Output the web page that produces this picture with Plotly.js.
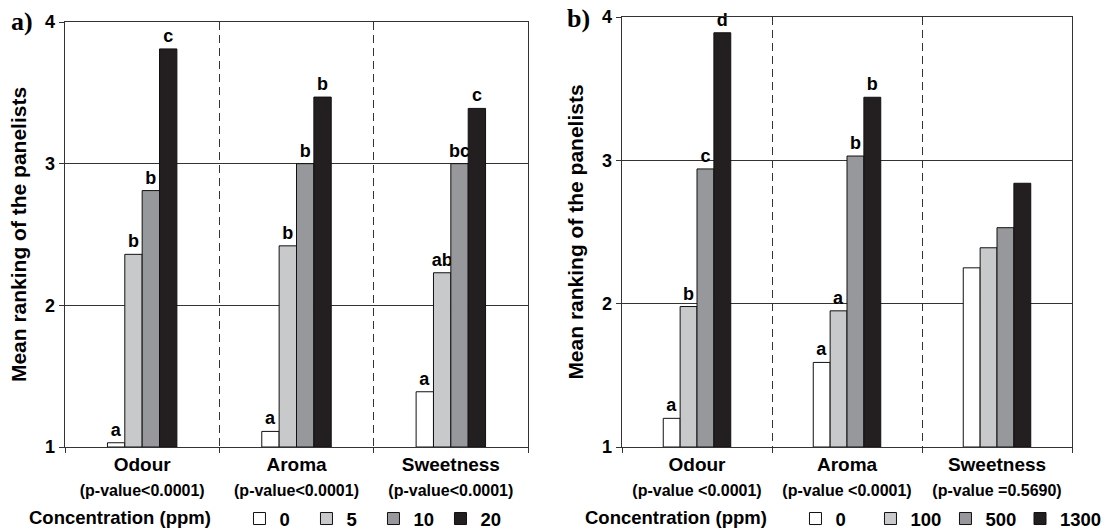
<!DOCTYPE html>
<html>
<head>
<meta charset="utf-8">
<script src="https://cdn.plot.ly/plotly-3.0.1.min.js"></script>
<style>html,body{margin:0;padding:0;background:#fff;}#chart{width:1105px;height:530px;}</style>
</head>
<body>
<div id="chart"></div>
<script>
// ---- Data ----
const categories = ['Odour', 'Aroma', 'Sweetness'];
const pValuesA = ['(p-value<0.0001)', '(p-value<0.0001)', '(p-value<0.0001)'];
const pValuesB = ['(p-value <0.0001)', '(p-value <0.0001)', '(p-value =0.5690)'];

const concA = ['0', '5', '10', '20'];
const concB = ['0', '100', '500', '1300'];

// panel a) mean rankings
const a_0 = [1.03, 1.11, 1.39];
const a_5 = [2.36, 2.42, 2.23];
const a_10 = [2.81, 3.00, 3.00];
const a_20 = [3.81, 3.47, 3.39];
const a_letters_0 = ['a', 'a', 'a'];
const a_letters_5 = ['b', 'b', 'ab'];
const a_letters_10 = ['b', 'b', 'bc'];
const a_letters_20 = ['c', 'b', 'c'];

// panel b) mean rankings
const b_0 = [1.20, 1.59, 2.25];
const b_100 = [1.98, 1.95, 2.39];
const b_500 = [2.94, 3.03, 2.53];
const b_1300 = [3.89, 3.44, 2.84];
const b_letters_0 = ['a', 'a', ''];
const b_letters_100 = ['b', 'a', ''];
const b_letters_500 = ['c', 'b', ''];
const b_letters_1300 = ['d', 'b', ''];

const yTicks = [1, 2, 3, 4];
const baseline = 1;

// ---- Styling ----
const colors = ['#ffffff', '#c8c9cb', '#97989b', '#231f20'];
const FONT = 'Liberation Sans, Arial, sans-serif';
const W = 1105, H = 530;
const LINE = '#333';

function bar(vals, letters, name, color, xa, ya, legend) {
  return {
    type: 'bar', x: categories, y: vals.map(v => v - baseline), base: baseline,
    name: name, legend: legend, xaxis: xa, yaxis: ya,
    marker: {color: color, line: {color: '#111', width: 1}},
    text: letters, textposition: 'outside', cliponaxis: false, constraintext: 'none',
    textfont: {family: FONT, size: 18, color: '#000', weight: 'bold'},
    hovertemplate: '%{x}: %{customdata}<extra></extra>', customdata: vals
  };
}

const traces = [
  bar(a_0, a_letters_0, concA[0], colors[0], 'x', 'y', 'legend'),
  bar(a_5, a_letters_5, concA[1], colors[1], 'x', 'y', 'legend'),
  bar(a_10, a_letters_10, concA[2], colors[2], 'x', 'y', 'legend'),
  bar(a_20, a_letters_20, concA[3], colors[3], 'x', 'y', 'legend'),
  bar(b_0, b_letters_0, concB[0], colors[0], 'x2', 'y2', 'legend2'),
  bar(b_100, b_letters_100, concB[1], colors[1], 'x2', 'y2', 'legend2'),
  bar(b_500, b_letters_500, concB[2], colors[2], 'x2', 'y2', 'legend2'),
  bar(b_1300, b_letters_1300, concB[3], colors[3], 'x2', 'y2', 'legend3')
];

function tickText(pv) {
  return categories.map((c, i) => c + '<br><span style="font-size:16px">' +
    pv[i].replace('<', '&lt;') + '</span>');
}

function xAxis(domain, anchor, pv) {
  return {
    domain: domain, anchor: anchor, type: 'category', automargin: false,
    tickmode: 'array', tickvals: categories, ticktext: tickText(pv), tickangle: 0,
    tickson: 'boundaries', ticks: 'outside', ticklen: 5, tickcolor: LINE, tickwidth: 1,
    showgrid: true, gridcolor: LINE, griddash: '8px,5px', gridwidth: 1,
    showline: true, linecolor: LINE, linewidth: 1.3, mirror: true,
    tickfont: {family: FONT, size: 19, color: '#000', weight: 'bold'},
    fixedrange: true
  };
}
function yAxis(domain, anchor) {
  return {
    domain: domain, anchor: anchor, range: [1, 4], automargin: false,
    tickmode: 'array', tickvals: yTicks, ticks: 'outside', ticklen: 5, tickcolor: LINE,
    showgrid: true, gridcolor: LINE, gridwidth: 1,
    showline: true, linecolor: LINE, linewidth: 1.3, mirror: true, zeroline: false,
    tickfont: {family: FONT, size: 18, color: '#000', weight: 'bold'},
    title: {text: 'Mean ranking of the panelists', standoff: 12,
            font: {family: FONT, size: 21, color: '#000', weight: 'bold'}},
    fixedrange: true
  };
}

const pad = '&nbsp;&nbsp;&nbsp;&nbsp;';
function legendCfg(x, entry, withTitle) {
  const cfg = {
    orientation: 'h', xref: 'paper', yref: 'paper',
    x: x / W, xanchor: 'left', y: (H - 519) / H, yanchor: 'middle',
    font: {family: FONT, size: 18.5, color: '#000', weight: 'bold'},
    bgcolor: 'rgba(0,0,0,0)', borderwidth: 0, tracegroupgap: 0, traceorder: 'normal'
  };
  if (entry) { cfg.entrywidth = entry; cfg.entrywidthmode = 'pixels'; }
  if (withTitle) {
    cfg.title = {text: '<b>Concentration (ppm)</b>' + pad, side: 'left',
                 font: {family: FONT, size: 18.5, color: '#000'}};
  }
  return cfg;
}

const yb = (H - 447) / H;
const layout = {
  width: W, height: H,
  margin: {l: 0, r: 0, t: 0, b: 0, autoexpand: false},
  paper_bgcolor: '#fff', plot_bgcolor: '#fff',
  barmode: 'group', bargap: 0.55, bargroupgap: 0,
  xaxis: xAxis([65 / W, 528 / W], 'y', pValuesA),
  yaxis: yAxis([yb, (H - 22) / H], 'x'),
  xaxis2: xAxis([622 / W, 1072 / W], 'y2', pValuesB),
  yaxis2: yAxis([yb, (H - 17) / H], 'x2'),
  legend: legendCfg(27, 22, true),
  legend2: legendCfg(583, 30, true),
  legend3: legendCfg(1020, 0, false),
  annotations: [
    {text: '<b>a)</b>', xref: 'paper', yref: 'paper', x: 9 / W, y: (H - 22) / H, xanchor: 'left', yanchor: 'middle',
     showarrow: false, font: {family: 'Liberation Serif, Times New Roman, serif', size: 26, color: '#000'}},
    {text: '<b>b)</b>', xref: 'paper', yref: 'paper', x: 565 / W, y: (H - 19) / H, xanchor: 'left', yanchor: 'middle',
     showarrow: false, font: {family: 'Liberation Serif, Times New Roman, serif', size: 26, color: '#000'}}
  ],
  showlegend: true
};

Plotly.newPlot('chart', traces, layout, {displayModeBar: false, staticPlot: true});
</script>
</body>
</html>
